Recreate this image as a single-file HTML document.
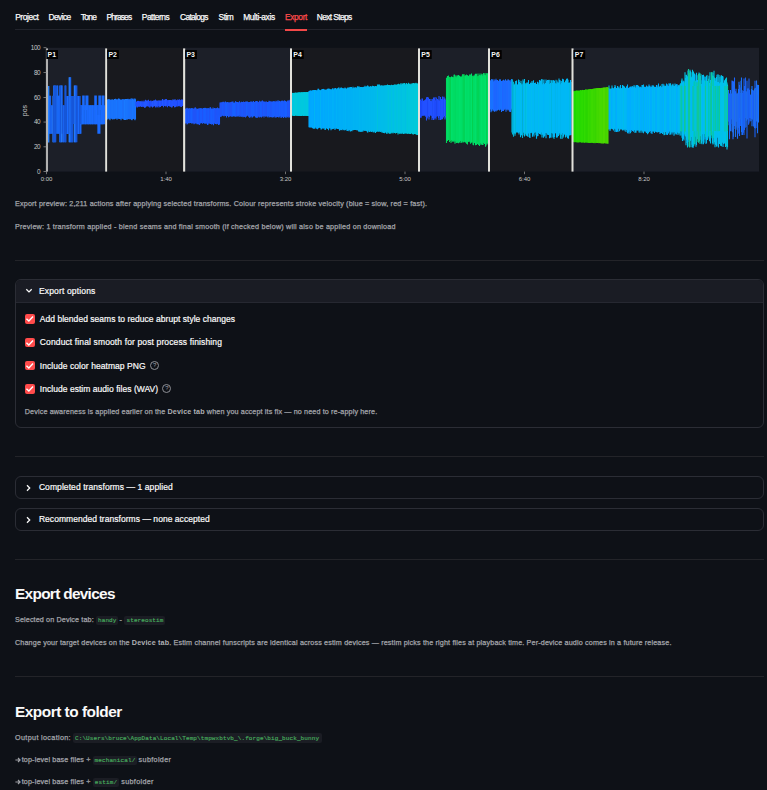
<!DOCTYPE html>
<html>
<head>
<meta charset="utf-8">
<style>
html,body{margin:0;padding:0;}
body{width:767px;height:790px;overflow:hidden;background:#0e1117;position:relative;font-family:"Liberation Sans",sans-serif;color:#fafafa;}
.a{position:absolute;white-space:nowrap;line-height:1;}
.tab{position:absolute;top:12.0px;font-size:8.4px;line-height:10px;color:#fafafa;white-space:nowrap;letter-spacing:-0.15px;-webkit-text-stroke-width:0.25px;}
.hr{position:absolute;left:15px;width:749px;height:1px;background:#232429;}
.cap{position:absolute;font-size:7.2px;line-height:9px;color:#a2a4a9;white-space:nowrap;-webkit-text-stroke-width:0.25px;}
.cap b{color:#aeb0b4;font-weight:bold;-webkit-text-stroke-width:0;}
.lbl{position:absolute;font-size:8.5px;line-height:10px;color:#fafafa;white-space:nowrap;-webkit-text-stroke-width:0.2px;}
.exp{position:absolute;left:15px;width:749px;border:1px solid #2b2d35;border-radius:6px;box-sizing:border-box;}
.cb{position:absolute;left:25px;width:9.6px;height:9.6px;border-radius:2px;background:#ff4b4b;}
.cb svg{position:absolute;left:0;top:0;}
.help{position:absolute;width:7px;height:7px;border:1px solid #8d8f95;border-radius:50%;}
.help i{position:absolute;left:0;top:0;width:7px;height:7px;font-style:normal;font-size:6px;line-height:7.4px;text-align:center;color:#a0a2a8;}
.chip{position:absolute;height:9.4px;background:#1b1d24;border-radius:2px;}
.code{position:absolute;font-family:"Liberation Mono",monospace;font-size:6px;line-height:8px;color:#47ad5e;white-space:nowrap;-webkit-text-stroke-width:0.15px;margin-top:0.7px;}
.h3{position:absolute;font-size:15.4px;font-weight:bold;line-height:18px;color:#fafafa;white-space:nowrap;letter-spacing:-0.3px;}
</style>
</head>
<body>
<!-- tabs -->
<div class="tab" style="letter-spacing:-0.408px;left:15.2px">Project</div>
<div class="tab" style="letter-spacing:-0.568px;left:48.5px">Device</div>
<div class="tab" style="letter-spacing:-0.656px;left:80.8px">Tone</div>
<div class="tab" style="letter-spacing:-0.855px;left:106.5px">Phrases</div>
<div class="tab" style="letter-spacing:-0.474px;left:141.8px">Patterns</div>
<div class="tab" style="letter-spacing:-0.659px;left:180px">Catalogs</div>
<div class="tab" style="letter-spacing:-0.501px;left:218.6px">Stim</div>
<div class="tab" style="letter-spacing:-0.386px;left:243.2px">Multi-axis</div>
<div class="tab" style="letter-spacing:-0.357px;left:285.0px;color:#ff4b4b">Export</div>
<div class="tab" style="letter-spacing:-0.617px;left:316.8px">Next Steps</div>
<div class="hr" style="top:29px;height:1px;background:#22242c"></div>
<div style="position:absolute;left:284.8px;top:28.8px;width:22.5px;height:2px;background:#f24848"></div>

<!-- chart -->
<svg style="position:absolute;left:0;top:0" width="767" height="190" viewBox="0 0 767 190" shape-rendering="auto">
<rect x="46.5" y="47.8" width="59.6" height="123.8" fill="#1c1f28"/>
<rect x="106.1" y="47.8" width="78.0" height="123.8" fill="#18191e"/>
<rect x="184.1" y="47.8" width="106.9" height="123.8" fill="#1c1f28"/>
<rect x="291.0" y="47.8" width="128.0" height="123.8" fill="#18191e"/>
<rect x="419.0" y="47.8" width="70.0" height="123.8" fill="#1c1f28"/>
<rect x="489.0" y="47.8" width="83.5" height="123.8" fill="#18191e"/>
<rect x="572.5" y="47.8" width="186.5" height="123.8" fill="#1c1f28"/>
<path d="M48.35 86.0V142.6M48.85 86.0V142.6" stroke="#2a84ff" stroke-width="1.1" fill="none"/>
<path d="M49.55 95.8V133.8M54.25 85.6V142.3M70.15 77.2V142.3M73.35 95.9V124.0M78.55 95.9V133.9M80.50 105.2V124.2M81.50 105.2V124.2M83.00 105.2V124.2M83.50 105.2V124.2M85.00 105.2V124.2M90.50 105.2V124.2M91.50 105.2V124.2M92.00 105.2V124.2M94.50 105.2V124.2M95.00 105.2V124.2M100.00 105.2V124.2M102.50 105.2V124.2" stroke="#1f74ff" stroke-width="1.1" fill="none"/>
<path d="M50.05 95.8V133.8M56.05 95.8V133.8M59.35 95.8V133.8M63.35 105.3V142.3M67.85 95.9V133.9M69.65 77.2V142.3M71.35 95.9V142.3M75.35 85.6V142.3M78.05 95.9V133.9M81.00 105.2V124.2M87.00 105.2V124.2M87.50 105.2V124.2M89.00 105.2V124.2M93.00 105.2V124.2M93.50 105.2V124.2M95.50 105.2V124.2M97.00 105.2V124.2M98.00 105.2V124.2M99.50 105.2V124.2M102.00 105.2V124.2M104.00 105.2V124.2M104.50 105.2V124.2" stroke="#1c68fa" stroke-width="1.1" fill="none"/>
<path d="M50.55 95.8V133.8M57.75 85.6V133.8M58.35 95.8V133.8M60.75 85.6V142.3M66.85 95.9V133.9M70.65 77.2V142.3M82.00 105.2V124.2M84.00 105.2V124.2M84.50 105.2V124.2M86.00 105.2V124.2M86.50 105.2V124.2M88.50 105.2V124.2M91.00 105.2V124.2M94.00 105.2V124.2M97.50 105.2V124.2M98.50 105.2V124.2M100.50 105.2V124.2M101.00 105.2V124.2" stroke="#1866f0" stroke-width="1.1" fill="none"/>
<path d="M51.25 105.2V133.8M63.85 105.3V142.3M64.35 105.3V142.3M74.85 85.6V142.3M77.55 95.9V133.9M80.05 95.9V133.9" stroke="#1a5ce6" stroke-width="1.1" fill="none"/>
<path d="M51.75 105.2V133.8M52.25 105.2V133.8M53.75 85.6V142.3M55.25 85.6V142.3M56.75 85.6V133.8M57.25 85.6V133.8M58.85 95.8V133.8M59.75 85.6V142.3M61.25 85.6V142.3M62.85 105.3V142.3M65.45 85.6V142.3M67.35 95.9V133.9M68.35 95.9V133.9M72.35 95.9V142.3M75.85 85.6V142.3M79.05 95.9V133.9M80.35 105.3V124.0M82.50 105.2V124.2M85.50 105.2V124.2M88.00 105.2V124.2M89.50 105.2V124.2M90.00 105.2V124.2M92.50 105.2V124.2M96.00 105.2V124.2M96.50 105.2V124.2M99.00 105.2V124.2M101.50 105.2V124.2M103.00 105.2V124.2M103.50 105.2V124.2M82.70 95.4V110.0M83.20 95.4V110.0M83.70 95.4V110.0M84.20 95.4V110.0M85.90 95.4V110.0M86.40 95.4V110.0M86.90 95.4V110.0M87.40 95.4V110.0M87.90 95.4V110.0M94.80 95.4V110.0M95.30 95.4V110.0M95.80 95.4V110.0M96.30 95.4V110.0M98.90 95.4V110.0M99.40 95.4V110.0M99.90 95.4V110.0M100.40 95.4V110.0M102.00 95.4V110.0M102.50 95.4V110.0M103.00 95.4V110.0M103.50 95.4V110.0M104.00 95.4V110.0M79.90 115.0V133.7M80.40 115.0V133.7M80.90 115.0V133.7M97.90 115.0V133.7M98.40 115.0V133.7M98.90 115.0V133.7M99.40 115.0V133.7M99.90 115.0V133.7M496.50 80.3V110.5M497.00 80.0V108.6M499.00 80.7V110.0M499.50 79.8V110.4M500.50 79.8V108.8M501.00 81.1V110.0M506.00 80.9V111.8M508.50 79.8V109.7M509.00 81.9V109.7M509.50 80.6V111.7M728.00 93.9V125.3M737.50 93.8V138.7M739.00 81.8V133.0M739.50 84.9V136.1M742.50 93.0V134.9M747.50 88.9V119.4M749.50 89.7V118.1M751.00 94.3V121.1M754.00 93.2V122.5M755.50 88.0V128.4" stroke="#1a6cff" stroke-width="1.1" fill="none"/>
<path d="M52.95 95.8V142.3M61.75 85.6V142.3M69.15 77.2V142.3M74.35 85.6V142.3" stroke="#2a80ff" stroke-width="1.1" fill="none"/>
<path d="M53.45 95.8V142.3M54.75 85.6V142.3M55.75 85.6V142.3M60.25 85.6V142.3M62.25 85.6V133.8M64.95 85.6V142.3M65.95 85.6V142.3M66.35 95.9V133.9M68.85 95.9V133.9M71.85 95.9V142.3M72.85 95.9V142.3M73.85 95.9V124.0M76.35 85.6V142.3M76.85 85.6V142.3M79.55 95.9V133.9M80.85 105.3V124.0" stroke="#1656d8" stroke-width="1.1" fill="none"/>
<path d="M107.50 99.7V119.6M109.00 98.9V119.3M110.00 99.8V120.2M112.50 99.6V119.2M114.50 98.9V119.2M115.50 98.7V118.6M116.50 99.5V118.6M118.50 98.6V118.5M122.00 99.4V118.8M124.00 99.2V118.8M124.50 99.9V119.9M125.50 99.0V119.9M126.50 98.9V119.2M132.50 99.0V119.3" stroke="#1c7eff" stroke-width="1.1" fill="none"/>
<path d="M108.00 99.0V118.5M108.50 99.5V118.4M109.50 99.7V118.9M111.50 99.4V118.7M112.00 100.2V118.8M113.50 100.1V119.1M117.00 100.0V119.8M121.50 100.0V118.6M123.00 99.3V118.8M125.00 98.9V119.2M127.00 99.2V119.7M127.50 99.0V119.3M128.50 99.4V119.1M130.50 99.5V118.9M132.00 98.3V120.2M133.50 99.7V118.7M135.50 99.2V119.2" stroke="#1a78ff" stroke-width="1.1" fill="none"/>
<path d="M110.50 99.7V118.6M114.00 100.0V118.8M116.00 99.1V118.5M119.00 99.2V119.0M119.50 98.8V118.7M120.00 99.4V119.1M120.50 99.6V118.4M121.00 99.5V120.3M129.00 99.3V118.5M133.00 99.3V118.6M134.50 99.3V119.5M135.00 98.5V120.2" stroke="#1874ff" stroke-width="1.1" fill="none"/>
<path d="M111.00 100.0V118.6M113.00 99.4V119.4M115.00 100.1V118.7M117.50 99.3V118.6M118.00 100.0V118.8M122.50 99.2V118.5M123.50 99.4V119.5M126.00 99.4V119.5M128.00 98.7V119.3M129.50 99.3V119.0M130.00 99.5V119.4M131.00 98.4V118.6M131.50 99.6V119.9M134.00 98.6V119.1" stroke="#1a70fa" stroke-width="1.1" fill="none"/>
<path d="M136.00 101.6V106.0M139.50 101.3V106.7M141.00 101.4V106.1M141.50 101.4V107.1M144.00 100.4V107.1M145.50 99.8V105.9M146.50 101.6V105.9M149.50 101.0V107.6M150.00 101.3V107.4M150.50 100.8V106.2M153.00 100.8V106.5M153.50 101.1V106.7M157.00 100.9V107.4M158.00 100.6V106.0M158.50 101.1V106.0M159.00 100.3V107.5M161.00 100.3V106.0M161.50 100.5V106.0M162.00 100.6V106.0M163.50 100.4V107.2M167.50 100.2V107.3M170.00 100.4V106.5M177.00 100.4V106.9M180.50 100.3V106.8M181.00 99.7V106.7M420.50 99.6V117.5M421.50 100.8V116.4M422.00 98.4V115.7M422.50 98.4V115.7M427.50 96.9V117.8M428.00 101.4V116.2M431.50 101.2V116.1M432.00 100.9V120.1M434.50 98.3V118.5M435.50 100.6V118.2M438.00 99.5V115.9M438.50 100.3V118.0M442.00 99.6V116.0M444.50 100.1V115.9" stroke="#1f4cff" stroke-width="1.1" fill="none"/>
<path d="M136.50 101.9V106.6M139.00 101.6V106.1M142.50 101.7V106.6M148.00 101.0V106.3M149.00 100.9V106.6M151.50 101.4V106.0M154.50 101.2V106.2M155.50 99.4V107.5M164.00 99.8V105.9M165.00 101.0V105.7M168.00 100.3V105.7M169.00 99.9V106.0M170.50 99.9V106.4M177.50 99.5V106.0M178.00 99.5V105.8M179.50 99.2V105.7M182.50 99.6V106.1" stroke="#1d48f8" stroke-width="1.1" fill="none"/>
<path d="M137.00 101.4V107.5M140.00 101.4V106.6M140.50 101.3V106.6M142.00 100.8V106.5M143.50 101.8V106.5M144.50 101.5V107.6M145.00 101.4V108.0M146.00 100.3V107.0M147.00 100.7V106.0M152.00 101.3V107.0M152.50 101.1V107.4M154.00 100.0V106.0M155.00 100.6V105.8M156.00 100.1V106.8M156.50 101.0V106.2M159.50 100.7V106.7M160.00 100.4V106.8M162.50 99.1V105.7M163.00 99.7V105.7M165.50 99.2V106.3M166.00 98.9V106.5M169.50 100.1V106.2M171.00 99.9V107.1M172.50 100.5V106.4M173.00 99.3V105.6M174.00 100.0V105.6M175.00 99.0V107.2M178.50 99.9V105.9M424.00 100.8V115.2M429.00 99.4V119.4M429.50 99.0V116.9M431.00 98.9V115.1M432.50 99.3V118.3M437.50 98.9V116.0M440.50 97.1V120.0M443.50 99.8V116.9M444.00 96.8V115.7M445.00 98.6V119.5M446.00 100.3V117.5" stroke="#2458ff" stroke-width="1.1" fill="none"/>
<path d="M137.50 100.9V107.2M138.00 100.7V107.1M138.50 101.0V106.6M143.00 101.5V107.1M147.50 100.4V106.2M148.50 99.7V106.5M151.00 100.6V106.2M157.50 100.8V106.8M160.50 101.1V107.1M164.50 99.8V105.8M166.50 99.1V105.8M167.00 100.5V105.7M168.50 100.3V106.1M171.50 100.6V107.6M172.00 100.2V107.4M173.50 100.5V106.1M174.50 100.3V107.3M175.50 100.5V106.9M176.00 99.9V105.9M176.50 100.6V105.8M179.00 99.9V106.6M180.00 100.1V105.8M181.50 99.4V106.9M182.00 100.3V106.1M183.00 100.3V106.1" stroke="#2150ff" stroke-width="1.1" fill="none"/>
<path d="M185.50 109.1V123.4M188.00 108.0V123.1M191.50 108.3V123.4M194.00 108.5V124.2M198.50 109.1V124.1M199.00 107.9V124.4M200.00 108.6V122.8M201.00 108.2V122.9M208.00 108.1V124.8M210.00 107.6V123.8M211.50 108.7V124.4M212.50 108.9V124.3M213.00 107.6V123.8M214.00 108.9V123.2M215.50 108.2V124.0M216.50 108.3V124.3M217.50 107.5V123.8M219.50 108.5V124.6M222.50 102.2V115.5M223.50 102.1V115.9M228.50 102.4V117.3M230.00 101.9V115.6M231.00 102.4V116.3M233.00 101.5V116.2M242.50 102.1V115.9M243.00 102.4V117.2M246.00 101.5V116.8M249.50 101.9V117.7M250.50 101.8V116.6M253.00 102.0V115.8M253.50 101.1V116.3M258.50 102.3V116.0M261.00 101.7V116.1M261.50 101.4V117.4M263.00 101.1V116.2M264.00 101.9V117.4M265.50 102.3V116.5M267.50 101.9V116.4M268.50 102.0V116.3M269.50 101.2V117.2M274.00 101.0V116.6M275.00 101.6V117.5M275.50 101.9V116.8M277.00 101.5V116.4M278.50 101.8V117.2M280.00 101.4V116.8M280.50 101.5V116.3M283.50 101.5V117.9M284.50 100.6V116.8M285.50 100.9V116.3M287.00 101.7V116.8M288.00 100.3V117.4" stroke="#1d58ff" stroke-width="1.1" fill="none"/>
<path d="M186.00 108.3V122.8M189.00 108.7V123.5M190.50 108.4V122.9M191.00 108.4V122.9M192.00 108.1V122.8M192.50 108.5V123.2M197.50 108.8V123.6M202.00 108.4V123.3M204.00 108.1V123.2M204.50 108.6V123.5M205.00 107.8V123.8M206.50 108.3V123.6M207.50 108.5V125.1M211.00 108.6V123.7M212.00 108.8V124.1M218.50 108.6V125.1M222.00 102.4V115.7M225.00 103.0V115.5M225.50 101.6V116.1M227.00 102.9V116.1M227.50 102.0V116.0M229.00 102.5V117.0M232.00 102.5V117.0M232.50 101.8V116.3M233.50 102.8V116.1M234.00 102.8V116.4M234.50 102.4V116.4M235.00 102.5V116.2M235.50 101.3V116.6M239.00 102.7V116.8M246.50 101.8V116.3M247.00 101.6V115.6M247.50 101.5V115.6M252.50 102.2V117.6M254.00 102.5V116.6M254.50 101.9V116.1M256.00 101.0V117.5M260.00 101.7V117.3M260.50 101.6V116.7M262.00 100.8V116.9M264.50 101.8V116.0M266.00 101.8V116.4M267.00 102.1V116.4M268.00 101.9V117.6M270.00 101.8V117.2M271.50 101.7V116.9M272.00 101.7V117.6M273.00 101.9V117.6M273.50 101.2V117.0M279.00 100.8V117.6M279.50 100.9V116.4M281.50 100.9V117.3M283.00 101.2V116.7M285.00 100.7V117.2M286.00 101.4V118.0M286.50 101.7V116.4M288.50 101.3V116.3" stroke="#1860ff" stroke-width="1.1" fill="none"/>
<path d="M186.50 108.5V123.3M188.50 108.9V123.0M190.00 108.5V123.1M195.00 107.6V123.1M196.50 109.2V123.3M197.00 108.9V124.2M198.00 109.1V124.2M200.50 108.3V123.4M201.50 108.4V122.9M203.00 108.6V122.9M203.50 108.0V123.0M205.50 108.0V123.4M206.00 108.9V123.5M208.50 108.2V123.6M209.00 108.2V123.4M210.50 107.2V124.0M213.50 108.5V125.3M214.50 108.1V123.4M217.00 108.3V123.6M219.00 107.9V124.2M221.00 102.2V117.0M223.00 101.8V115.5M226.00 102.9V115.7M226.50 102.2V117.4M236.00 101.7V117.1M237.00 102.1V116.1M237.50 102.1V116.4M238.00 102.7V116.2M238.50 102.3V115.7M239.50 101.2V115.4M241.50 101.8V116.4M242.00 101.9V116.9M244.00 102.2V116.9M244.50 102.0V116.7M248.50 102.2V116.8M249.00 102.0V116.3M251.00 101.6V117.5M251.50 101.6V115.8M252.00 101.4V116.2M255.50 101.5V117.3M256.50 101.0V117.7M257.00 102.1V117.3M257.50 101.2V117.7M259.00 102.4V117.3M263.50 101.8V115.9M269.00 100.8V116.0M270.50 101.4V117.0M272.50 101.6V116.7M274.50 102.1V116.1M276.00 100.7V117.7M276.50 101.5V117.0M277.50 101.6V116.9M278.00 100.2V116.8M281.00 101.3V118.1M282.00 100.4V117.2M282.50 100.8V116.7M284.00 100.7V116.7" stroke="#1a5cff" stroke-width="1.1" fill="none"/>
<path d="M187.00 107.7V124.6M187.50 108.5V124.0M189.50 108.3V122.9M193.00 108.5V123.6M193.50 109.1V123.1M194.50 108.5V123.7M195.50 107.5V123.5M196.00 108.0V123.6M199.50 108.9V125.1M202.50 109.1V123.8M207.00 108.4V123.3M209.50 108.7V123.3M215.00 109.0V123.3M216.00 108.9V123.2M218.00 108.7V123.8M220.00 102.4V116.0M220.50 102.8V116.7M221.50 102.4V115.9M224.00 101.7V116.5M224.50 102.5V115.7M228.00 102.4V115.4M229.50 102.9V116.2M230.50 102.6V116.3M231.50 101.7V116.2M236.50 102.5V116.0M240.00 102.3V117.1M240.50 102.5V115.6M241.00 102.5V116.2M243.50 101.4V116.6M245.00 102.1V116.7M245.50 101.8V117.6M248.00 102.3V115.9M250.00 102.5V117.1M255.00 102.2V115.8M258.00 102.1V117.0M259.50 100.7V117.2M262.50 100.6V116.0M265.00 101.5V116.3M266.50 101.5V116.0M271.00 101.3V116.4M287.50 101.1V116.7M289.00 100.4V117.5M289.50 101.4V117.2M290.00 99.8V117.5" stroke="#1f54f8" stroke-width="1.1" fill="none"/>
<path d="M292.50 93.0V115.8M293.00 92.8V115.8M294.00 92.9V116.0M294.50 92.8V115.9M295.00 92.8V115.8M295.50 92.5V115.8M296.00 92.6V115.8M296.50 92.7V115.8M297.00 92.7V115.9M298.50 92.4V115.8M304.50 92.2V115.8M305.50 92.2V115.8M307.50 92.1V116.0M308.50 92.0V115.9" stroke="#02cadc" stroke-width="1.1" fill="none"/>
<path d="M293.50 92.9V115.8M298.00 92.6V115.8M299.00 92.6V116.1M300.00 92.3V115.8M300.50 92.5V115.9M301.50 92.4V115.9M303.00 92.3V115.8M304.00 92.2V115.8M305.00 92.1V115.8M306.50 92.1V115.8" stroke="#00c6e2" stroke-width="1.1" fill="none"/>
<path d="M297.50 92.7V115.8M299.50 92.4V115.8M301.00 92.5V115.9M302.00 92.1V115.8M302.50 92.4V115.8M303.50 92.2V116.0M306.00 92.1V116.1M307.00 91.9V115.8M308.00 92.0V116.1" stroke="#00c8de" stroke-width="1.1" fill="none"/>
<path d="M309.00 91.0V127.3M309.50 90.8V127.4M310.00 90.7V127.5M310.50 90.4V127.4M311.50 91.0V127.0M312.50 90.8V127.2" stroke="#00a6ff" stroke-width="1.1" fill="none"/>
<path d="M311.00 90.4V127.3" stroke="#00aafe" stroke-width="1.1" fill="none"/>
<path d="M312.00 90.6V128.0M313.00 90.0V128.6M314.00 90.2V129.1" stroke="#00abfe" stroke-width="1.1" fill="none"/>
<path d="M313.50 90.2V127.2M315.00 90.9V128.4M315.50 90.1V127.4M316.00 90.1V127.2M316.50 90.8V128.7M317.50 90.3V129.2M318.00 88.8V128.0" stroke="#00a7fe" stroke-width="1.1" fill="none"/>
<path d="M314.50 90.0V128.3M319.00 90.3V127.4M320.00 90.3V127.9M320.50 90.2V128.0M321.00 89.9V129.4M323.00 89.0V128.5M325.00 89.4V129.9M325.50 89.8V129.8M334.00 89.5V128.6M337.00 88.6V128.6M338.50 87.5V128.9M339.00 88.4V129.2M342.00 88.1V129.5M344.00 88.6V129.3M349.50 87.2V129.6M353.00 86.7V130.1M354.00 88.2V130.1M356.50 87.5V130.2M357.00 87.4V130.3M357.50 86.2V130.1M358.50 86.8V131.3M364.00 86.8V130.5M365.00 85.8V130.9M368.00 85.7V132.2M369.50 86.9V131.9" stroke="#00b4f4" stroke-width="1.1" fill="none"/>
<path d="M317.00 90.3V127.3" stroke="#00acfd" stroke-width="1.1" fill="none"/>
<path d="M318.50 88.8V128.3" stroke="#00acfc" stroke-width="1.1" fill="none"/>
<path d="M319.50 89.8V127.3M321.50 89.6V129.2M322.00 89.2V128.5M322.50 89.1V128.2" stroke="#00a8fd" stroke-width="1.1" fill="none"/>
<path d="M323.50 88.9V128.3" stroke="#00adfb" stroke-width="1.1" fill="none"/>
<path d="M324.00 89.6V128.4" stroke="#00aefb" stroke-width="1.1" fill="none"/>
<path d="M324.50 89.8V128.2M326.00 90.1V128.0" stroke="#00a9fc" stroke-width="1.1" fill="none"/>
<path d="M326.50 89.6V128.3" stroke="#00aefa" stroke-width="1.1" fill="none"/>
<path d="M327.00 89.5V128.5" stroke="#00a9fb" stroke-width="1.1" fill="none"/>
<path d="M327.50 88.8V129.0M328.00 89.8V128.8M329.00 88.4V128.3M329.50 89.9V128.1M330.00 89.0V128.4" stroke="#00aafb" stroke-width="1.1" fill="none"/>
<path d="M328.50 88.8V130.2M330.50 89.5V128.4" stroke="#00aff9" stroke-width="1.1" fill="none"/>
<path d="M331.00 89.6V130.2M331.50 89.3V129.0M332.00 89.7V129.2M333.00 88.2V128.7" stroke="#00abfa" stroke-width="1.1" fill="none"/>
<path d="M332.50 88.5V129.0M333.50 89.5V128.8" stroke="#00b0f8" stroke-width="1.1" fill="none"/>
<path d="M334.50 88.3V128.3" stroke="#00abf9" stroke-width="1.1" fill="none"/>
<path d="M335.00 88.9V129.9M335.50 87.9V128.8M336.00 88.8V128.5" stroke="#00acf9" stroke-width="1.1" fill="none"/>
<path d="M336.50 89.3V128.4" stroke="#00b1f7" stroke-width="1.1" fill="none"/>
<path d="M337.50 88.2V128.9M338.00 88.6V128.9" stroke="#00acf8" stroke-width="1.1" fill="none"/>
<path d="M339.50 89.1V130.7" stroke="#00b1f6" stroke-width="1.1" fill="none"/>
<path d="M340.00 87.6V129.7" stroke="#00adf8" stroke-width="1.1" fill="none"/>
<path d="M340.50 88.2V129.8" stroke="#00b2f6" stroke-width="1.1" fill="none"/>
<path d="M341.00 88.0V130.3" stroke="#00adf7" stroke-width="1.1" fill="none"/>
<path d="M341.50 87.5V130.1M342.50 88.6V129.0M343.00 88.0V130.2" stroke="#00aef7" stroke-width="1.1" fill="none"/>
<path d="M343.50 88.7V129.8" stroke="#00b2f5" stroke-width="1.1" fill="none"/>
<path d="M344.50 88.5V130.2" stroke="#00aef6" stroke-width="1.1" fill="none"/>
<path d="M345.00 87.5V130.3M346.00 88.5V129.4M346.50 88.6V129.2M347.00 88.5V131.0" stroke="#00aff6" stroke-width="1.1" fill="none"/>
<path d="M345.50 88.4V129.7" stroke="#00b3f5" stroke-width="1.1" fill="none"/>
<path d="M347.50 87.6V130.9" stroke="#00aff5" stroke-width="1.1" fill="none"/>
<path d="M348.00 88.3V130.5M348.50 87.6V129.4M349.00 88.3V131.3M350.00 88.5V130.1" stroke="#00b0f5" stroke-width="1.1" fill="none"/>
<path d="M350.50 87.1V131.4M351.00 87.5V129.5" stroke="#00b0f4" stroke-width="1.1" fill="none"/>
<path d="M351.50 87.1V131.0M352.00 87.9V131.2M352.50 88.4V130.1" stroke="#00b1f4" stroke-width="1.1" fill="none"/>
<path d="M353.50 87.8V130.2" stroke="#00b5f2" stroke-width="1.1" fill="none"/>
<path d="M354.50 88.1V130.1M355.00 87.1V130.1M355.50 87.6V130.1M356.00 87.9V129.7" stroke="#00b2f3" stroke-width="1.1" fill="none"/>
<path d="M358.00 87.0V130.5" stroke="#00b3f2" stroke-width="1.1" fill="none"/>
<path d="M359.00 86.3V131.7M360.00 87.5V131.7" stroke="#00b3f1" stroke-width="1.1" fill="none"/>
<path d="M359.50 87.4V130.8" stroke="#00b6f1" stroke-width="1.1" fill="none"/>
<path d="M360.50 87.0V131.6" stroke="#00b6f0" stroke-width="1.1" fill="none"/>
<path d="M361.00 87.5V131.9M361.50 87.1V131.2" stroke="#00b4f1" stroke-width="1.1" fill="none"/>
<path d="M362.00 87.1V132.0M608.50 88.0V129.4M610.00 88.4V130.9M615.00 85.1V131.9M615.50 86.4V129.6M619.00 86.6V128.9M623.00 88.9V130.5M624.00 87.9V129.0M626.50 86.4V129.9M629.50 87.5V130.5M637.50 84.9V130.4M638.00 85.4V130.1M639.50 87.6V131.3M642.00 85.0V132.8M643.00 85.1V131.4M643.50 84.5V133.2M644.00 87.6V131.9M647.00 85.9V130.9M651.00 87.0V133.2M653.00 85.0V131.2M653.50 86.1V131.6M655.50 87.0V131.4M656.00 86.7V132.0M662.50 86.6V134.1M664.50 86.2V134.9M666.50 83.5V134.8M671.50 86.3V132.4M673.50 85.6V132.4M674.00 86.1V135.8M676.00 84.4V132.0M679.50 85.8V132.3" stroke="#00b4f0" stroke-width="1.1" fill="none"/>
<path d="M362.50 87.3V130.8" stroke="#00b7f0" stroke-width="1.1" fill="none"/>
<path d="M363.00 86.9V131.5M363.50 87.0V130.2M364.50 87.1V130.4" stroke="#00b5f0" stroke-width="1.1" fill="none"/>
<path d="M365.50 86.7V130.7" stroke="#00b5ef" stroke-width="1.1" fill="none"/>
<path d="M366.00 86.9V130.6M366.50 86.4V131.3" stroke="#00b6ef" stroke-width="1.1" fill="none"/>
<path d="M367.00 86.2V130.8M369.00 87.1V131.1" stroke="#00b8ee" stroke-width="1.1" fill="none"/>
<path d="M367.50 85.4V132.6M368.50 86.5V130.5" stroke="#00b6ee" stroke-width="1.1" fill="none"/>
<path d="M370.00 86.2V131.7" stroke="#00b9ee" stroke-width="1.1" fill="none"/>
<path d="M370.50 86.2V131.3M373.50 86.1V131.9" stroke="#00b9ed" stroke-width="1.1" fill="none"/>
<path d="M371.00 86.3V131.2" stroke="#00b7ed" stroke-width="1.1" fill="none"/>
<path d="M371.50 86.7V131.9M372.00 86.7V131.6M372.50 85.8V131.3" stroke="#00b8ed" stroke-width="1.1" fill="none"/>
<path d="M373.00 86.6V132.3M374.00 86.8V132.5" stroke="#00b8ec" stroke-width="1.1" fill="none"/>
<path d="M374.50 86.7V131.4M375.00 85.9V131.8" stroke="#00b9ec" stroke-width="1.1" fill="none"/>
<path d="M375.50 86.0V133.1M376.00 86.0V131.9" stroke="#00b9eb" stroke-width="1.1" fill="none"/>
<path d="M376.50 86.5V131.8" stroke="#00baec" stroke-width="1.1" fill="none"/>
<path d="M377.00 86.3V131.7M377.50 84.6V131.2" stroke="#00baeb" stroke-width="1.1" fill="none"/>
<path d="M378.00 86.3V131.6M387.50 84.4V132.4M388.50 84.9V132.7M389.00 85.7V133.4M391.00 85.6V133.4M391.50 84.8V132.7M393.50 84.9V132.3M394.50 84.4V133.0M395.50 84.6V133.4M396.00 85.0V132.4M398.00 85.0V134.4M398.50 83.8V133.0M399.50 84.3V133.6M403.50 83.3V133.5M406.50 83.0V133.0M407.50 84.3V133.7M408.00 83.8V133.0M413.00 84.1V133.6" stroke="#00c8d4" stroke-width="1.1" fill="none"/>
<path d="M378.50 84.6V131.7M379.00 86.4V131.7" stroke="#00baea" stroke-width="1.1" fill="none"/>
<path d="M379.50 84.5V131.2M380.00 85.9V131.8" stroke="#00bbea" stroke-width="1.1" fill="none"/>
<path d="M380.50 85.8V131.9" stroke="#00bbeb" stroke-width="1.1" fill="none"/>
<path d="M381.00 85.3V131.4M381.50 86.0V131.7" stroke="#00bbe9" stroke-width="1.1" fill="none"/>
<path d="M382.00 84.9V132.7M382.50 85.9V131.7M383.00 85.9V132.4M386.00 85.4V132.6" stroke="#00bce9" stroke-width="1.1" fill="none"/>
<path d="M383.50 85.8V133.1M384.00 85.2V131.5M384.50 85.6V133.3M609.00 85.5V129.2M610.50 89.1V129.5M611.00 88.6V129.1M612.00 85.6V128.2M614.00 88.5V128.8M617.00 88.4V129.2M621.50 88.4V129.3M623.50 85.7V129.8M630.50 86.8V133.2M635.00 85.5V132.9M640.00 86.6V132.7M641.00 87.3V130.6M645.00 87.1V130.7M645.50 87.2V131.4M647.50 86.9V134.2M659.50 86.5V132.0M660.50 85.8V132.9M662.00 84.0V132.0M664.00 84.6V135.3M665.00 86.2V134.7M666.00 86.6V132.0M669.50 83.7V131.4M670.50 83.3V134.2M671.00 84.8V131.6M672.50 84.6V132.6M675.50 84.9V133.4M677.50 86.4V132.5M678.00 85.0V135.1M679.00 85.2V133.6M680.00 84.2V135.5" stroke="#00bce8" stroke-width="1.1" fill="none"/>
<path d="M385.00 85.6V131.7M385.50 85.2V132.5M389.50 85.0V133.5" stroke="#00bde8" stroke-width="1.1" fill="none"/>
<path d="M386.50 85.2V133.4" stroke="#00bde7" stroke-width="1.1" fill="none"/>
<path d="M387.00 85.6V133.9" stroke="#00bde9" stroke-width="1.1" fill="none"/>
<path d="M388.00 85.0V132.3M393.00 85.0V133.6M394.00 84.8V132.4" stroke="#00bee7" stroke-width="1.1" fill="none"/>
<path d="M390.00 84.9V133.7" stroke="#00bfe6" stroke-width="1.1" fill="none"/>
<path d="M390.50 85.6V133.2M392.00 84.9V132.3" stroke="#00bfe5" stroke-width="1.1" fill="none"/>
<path d="M392.50 85.3V132.8M400.50 84.2V133.4M401.50 84.6V133.8" stroke="#00c0e5" stroke-width="1.1" fill="none"/>
<path d="M395.00 85.2V132.7M405.00 84.4V133.2" stroke="#00c1e4" stroke-width="1.1" fill="none"/>
<path d="M396.50 84.8V133.0M397.00 84.6V132.4M405.50 84.6V133.6M406.00 83.6V133.2" stroke="#00c1e3" stroke-width="1.1" fill="none"/>
<path d="M397.50 84.3V132.7" stroke="#00c2e3" stroke-width="1.1" fill="none"/>
<path d="M399.00 85.1V133.5M409.00 83.7V133.9" stroke="#00c2e2" stroke-width="1.1" fill="none"/>
<path d="M400.00 84.9V133.7" stroke="#00c3e2" stroke-width="1.1" fill="none"/>
<path d="M401.00 82.9V132.9" stroke="#00c3e1" stroke-width="1.1" fill="none"/>
<path d="M402.00 84.6V132.9" stroke="#00c0e4" stroke-width="1.1" fill="none"/>
<path d="M402.50 83.5V132.7" stroke="#00c4e1" stroke-width="1.1" fill="none"/>
<path d="M403.00 84.2V134.0M404.00 83.8V134.0M404.50 83.1V133.3M682.00 78.4V137.7M683.50 82.6V135.8M685.00 72.3V135.6M686.50 74.7V139.7M692.50 69.7V146.9M699.50 73.4V141.6M707.00 75.0V140.0M708.00 84.6V138.5M714.00 70.7V143.8M722.00 76.6V139.7M683.00 85.9V131.0M704.50 86.0V131.0M705.00 85.9V131.4M708.00 86.0V131.2M710.00 85.8V131.5M716.00 86.0V131.0M721.00 86.0V131.1M727.00 85.8V131.5" stroke="#00c4e0" stroke-width="1.1" fill="none"/>
<path d="M407.00 84.1V134.1" stroke="#00c6df" stroke-width="1.1" fill="none"/>
<path d="M408.50 82.8V133.4" stroke="#00c6de" stroke-width="1.1" fill="none"/>
<path d="M409.50 83.8V133.8" stroke="#00c7de" stroke-width="1.1" fill="none"/>
<path d="M410.00 84.3V133.6M410.50 84.2V134.1M411.00 83.5V133.4M411.50 84.2V133.3" stroke="#00c7dd" stroke-width="1.1" fill="none"/>
<path d="M412.00 83.5V133.4M412.50 83.2V134.2M413.50 83.1V134.4M414.00 83.9V134.0" stroke="#00c8dc" stroke-width="1.1" fill="none"/>
<path d="M414.50 83.2V134.1M415.00 83.3V133.6M415.50 83.6V134.1M416.00 82.8V134.6" stroke="#00c9db" stroke-width="1.1" fill="none"/>
<path d="M416.50 83.4V134.8M417.00 83.3V134.1M417.50 83.4V135.1" stroke="#00cada" stroke-width="1.1" fill="none"/>
<path d="M421.00 101.3V118.0M425.50 99.2V116.7M427.00 98.6V118.7M433.00 98.9V116.1M434.00 100.1V119.7M436.00 100.2V119.6M436.50 97.5V115.8M437.00 98.9V116.8M440.00 99.5V115.5M443.00 97.0V118.1M445.50 100.3V116.2" stroke="#1c46f0" stroke-width="1.1" fill="none"/>
<path d="M423.00 101.7V115.8M423.50 100.8V115.8M424.50 100.6V115.4M425.00 100.0V115.7M426.00 100.1V115.5M426.50 97.2V120.5M428.50 97.6V116.2M430.00 101.6V115.8M430.50 100.9V115.5M433.50 97.5V120.0M435.00 97.1V116.5M439.00 96.1V120.0M439.50 100.8V115.9M441.00 100.3V119.5M441.50 99.1V119.4M442.50 96.5V119.3" stroke="#2250ff" stroke-width="1.1" fill="none"/>
<path d="M446.50 77.9V143.0M449.50 76.9V142.0M455.50 76.7V141.3M456.00 76.3V142.6M457.50 75.7V142.8M462.50 74.2V141.3M463.00 77.0V142.7M466.50 74.4V143.7M469.50 74.4V141.2M474.00 75.2V143.2M476.00 73.9V143.0M477.00 73.6V141.9M479.00 73.5V145.1M482.00 74.3V144.5M483.50 72.9V143.0" stroke="#02d65a" stroke-width="1.1" fill="none"/>
<path d="M447.00 77.5V141.0M448.00 76.0V139.9M448.50 75.6V139.9M449.00 77.9V139.8M452.50 77.1V141.2M453.50 77.2V141.3M454.00 74.7V142.1M454.50 74.5V140.7M456.50 77.3V143.0M460.00 76.6V140.9M461.50 77.0V142.5M463.50 74.4V142.1M464.50 75.9V141.8M465.00 75.2V142.2M467.50 75.2V144.6M469.00 75.7V141.5M470.50 74.4V143.8M471.00 75.1V142.3M473.00 76.7V144.7M474.50 76.0V143.0M476.50 74.3V145.1M477.50 76.2V144.1M478.50 75.8V145.1M479.50 75.0V145.9M480.00 76.0V142.6M480.50 75.3V143.6M482.50 76.1V145.1M486.00 74.4V145.4" stroke="#00d860" stroke-width="1.1" fill="none"/>
<path d="M447.50 75.9V140.9M452.00 76.8V142.1M455.00 75.3V143.7M458.00 77.3V142.8M458.50 75.0V143.3M459.00 77.3V142.7M460.50 76.7V141.1M462.00 75.8V141.8M466.00 75.7V141.4M467.00 74.9V143.3M468.50 76.1V141.7M470.00 76.3V142.3M473.50 76.2V145.2M484.00 73.7V142.7M484.50 75.0V144.0M487.00 72.9V144.5M487.50 73.5V143.4" stroke="#00dc66" stroke-width="1.1" fill="none"/>
<path d="M450.00 77.8V141.1M450.50 77.2V140.4M451.00 77.0V142.9M464.00 73.9V140.7M472.00 75.8V142.8M472.50 75.8V142.2M478.00 76.1V142.0M486.50 73.5V143.1" stroke="#04d050" stroke-width="1.1" fill="none"/>
<path d="M451.50 76.4V140.2M453.00 77.5V140.4M457.00 75.2V141.8M459.50 75.7V142.3M461.00 76.8V143.0M465.50 75.4V142.6M468.00 76.3V141.7M471.50 73.4V142.5M475.00 74.5V142.2M475.50 73.8V145.3M481.00 73.6V145.1M481.50 74.7V144.1M483.00 74.2V145.0M485.00 73.1V142.5M485.50 75.2V146.7" stroke="#00e06a" stroke-width="1.1" fill="none"/>
<path d="M490.50 80.6V109.6M493.00 80.6V108.7M493.50 81.4V110.6M494.50 81.5V111.7M497.50 80.1V110.5M503.50 79.7V111.1M504.50 80.7V109.5M506.50 80.6V109.4M507.50 80.4V109.1M508.00 79.2V110.5M511.00 80.3V110.3M511.50 78.9V108.8" stroke="#2070ff" stroke-width="1.1" fill="none"/>
<path d="M491.00 80.2V112.2M491.50 79.2V110.0M492.00 79.1V111.3M492.50 79.8V109.4M495.50 80.3V110.7M498.50 81.0V109.5M500.00 79.1V109.4M501.50 80.9V112.1M502.00 81.2V109.4M504.00 80.7V109.0M505.50 79.3V108.7M510.00 80.2V110.2M510.50 81.7V112.0M729.50 94.1V139.3M730.00 93.0V127.4M730.50 90.0V131.2M738.50 89.1V127.7M741.50 77.5V132.0M742.00 89.9V134.9M744.50 86.1V129.9M748.00 88.0V118.1M752.00 86.0V126.3M753.00 90.1V119.4M757.50 84.7V133.3M758.00 92.1V119.0M758.50 85.0V122.5" stroke="#1872ff" stroke-width="1.1" fill="none"/>
<path d="M494.00 79.3V111.2M495.00 80.5V109.2M496.00 78.7V111.6M498.00 80.9V109.4M502.50 80.6V111.0M503.00 81.0V110.7M505.00 80.5V109.8M507.00 81.9V109.9M728.50 90.0V121.6M731.50 94.0V119.6M732.00 80.4V131.2M733.00 81.0V139.3M734.00 81.7V128.9M734.50 77.6V125.9M735.00 91.2V120.7M736.00 88.8V127.6M743.50 92.4V118.6M745.00 92.7V128.0M746.50 91.8V120.7M750.00 95.0V121.5M750.50 94.9V118.2M752.50 92.1V118.9M756.00 87.7V128.0M757.00 95.0V118.5" stroke="#1d66ff" stroke-width="1.1" fill="none"/>
<path d="M512.00 79.6V132.5M516.00 84.5V132.7M518.50 79.6V132.4M520.50 84.1V137.2M523.00 79.5V132.6M524.00 81.2V135.3M526.00 84.3V135.5M527.00 82.2V135.9M528.00 82.7V137.1M529.50 84.1V137.6M530.00 84.3V138.1M531.00 82.8V131.9M531.50 83.7V132.8M532.00 80.9V133.2M534.50 83.0V132.8M538.50 84.5V133.1M543.00 80.1V133.4M544.50 84.2V136.5M545.00 83.7V135.6M551.00 83.3V137.8M551.50 80.3V133.1M553.00 79.9V137.5M555.50 83.4V133.0M563.50 79.5V136.4M565.50 80.6V137.6M566.00 81.8V136.9M569.50 82.5V135.6M571.00 82.1V135.0M692.00 76.5V144.8M699.00 72.5V135.4M702.00 80.3V144.3M702.50 75.1V134.3M703.50 74.8V144.2M717.00 74.7V146.6M717.50 82.1V137.4M720.00 76.8V143.3M686.50 86.0V131.1M688.00 85.8V131.0M695.50 85.7V131.0M707.50 85.7V131.1M712.00 86.0V131.2M726.50 86.0V131.0" stroke="#00bcf0" stroke-width="1.1" fill="none"/>
<path d="M512.50 79.5V134.5M513.00 84.5V134.3M513.50 81.7V136.7M515.50 80.9V133.7M517.00 84.6V132.5M522.00 83.5V135.7M522.50 84.2V138.1M525.50 83.2V134.1M535.00 84.6V132.6M552.00 81.0V133.3M554.00 80.7V138.9M556.00 79.8V133.5M557.50 82.3V137.3M560.50 84.2V138.7M567.00 82.7V133.6M570.00 83.5V134.4" stroke="#00b0d0" stroke-width="1.1" fill="none"/>
<path d="M514.00 85.1V133.2M523.50 82.7V132.6M536.50 84.0V138.8M537.50 81.7V136.2M538.00 82.5V136.0M540.00 84.0V133.5M543.50 82.9V137.7M544.00 79.6V134.7M546.00 79.4V138.2M547.00 84.6V133.0M549.50 83.9V138.3M550.00 79.9V133.5M554.50 80.7V137.1M556.50 83.6V137.6M558.00 83.4V135.4M561.00 81.1V133.9M568.00 79.8V135.0M570.50 79.9V135.3" stroke="#00b4f8" stroke-width="1.1" fill="none"/>
<path d="M514.50 84.6V133.5M515.00 83.6V135.8M520.00 83.1V133.2M521.00 80.7V134.8M524.50 79.0V136.6M525.00 84.5V133.1M526.50 83.2V134.6M536.00 84.0V135.3M539.00 82.7V132.6M542.00 78.9V137.5M549.00 79.8V132.9M559.50 84.5V132.9M562.00 80.9V138.9M564.50 82.3V133.2M569.00 83.3V133.1" stroke="#02c0e8" stroke-width="1.1" fill="none"/>
<path d="M516.50 80.4V132.1M517.50 84.5V132.1M518.00 84.8V132.8M519.00 80.1V134.4M519.50 82.1V132.0M521.50 84.6V134.9M527.50 84.1V134.7M528.50 79.9V133.6M529.00 84.2V132.7M530.50 82.7V133.0M532.50 82.7V136.7M533.00 83.2V132.2M533.50 80.2V134.4M534.00 83.2V136.6M535.50 82.6V132.2M537.00 84.0V133.8M539.50 80.1V133.9M540.50 80.5V134.3M541.00 83.5V134.7M541.50 79.3V132.6M542.50 84.3V134.8M545.50 83.0V133.1M546.50 80.7V133.2M547.50 79.9V134.7M548.00 84.6V133.1M548.50 80.1V135.0M550.50 83.0V137.6M552.50 82.8V133.4M553.50 80.2V137.4M555.00 82.9V133.2M557.00 80.6V137.5M558.50 82.6V136.0M559.00 78.6V135.1M560.00 80.1V133.5M561.50 82.8V134.8M562.50 78.8V133.0M563.00 79.3V137.8M564.00 82.8V134.6M565.00 83.4V134.7M566.50 78.8V135.4M567.50 78.4V138.3M568.50 82.7V138.8" stroke="#00b8f5" stroke-width="1.1" fill="none"/>
<path d="M573.50 91.4V141.9" stroke="#1edd00" stroke-width="1.1" fill="none"/>
<path d="M574.00 91.3V141.9" stroke="#23dc00" stroke-width="1.1" fill="none"/>
<path d="M574.50 91.1V142.3" stroke="#20dd00" stroke-width="1.1" fill="none"/>
<path d="M575.00 90.8V142.0" stroke="#1cd800" stroke-width="1.1" fill="none"/>
<path d="M575.50 91.1V142.0M576.00 90.8V142.2" stroke="#1dd800" stroke-width="1.1" fill="none"/>
<path d="M576.50 90.7V142.2" stroke="#26dc00" stroke-width="1.1" fill="none"/>
<path d="M577.00 90.6V142.2M577.50 91.0V142.4" stroke="#27dc00" stroke-width="1.1" fill="none"/>
<path d="M578.00 90.5V142.1" stroke="#25dc00" stroke-width="1.1" fill="none"/>
<path d="M578.50 90.8V142.5M579.00 90.8V142.3" stroke="#29dc00" stroke-width="1.1" fill="none"/>
<path d="M579.50 90.8V142.1" stroke="#22d700" stroke-width="1.1" fill="none"/>
<path d="M580.00 90.5V142.2" stroke="#28dc00" stroke-width="1.1" fill="none"/>
<path d="M580.50 90.1V142.1" stroke="#23d700" stroke-width="1.1" fill="none"/>
<path d="M581.00 90.2V142.2" stroke="#2cdb00" stroke-width="1.1" fill="none"/>
<path d="M581.50 90.5V142.6" stroke="#2bdc00" stroke-width="1.1" fill="none"/>
<path d="M582.00 90.2V142.2" stroke="#2ddb00" stroke-width="1.1" fill="none"/>
<path d="M582.50 89.9V142.4" stroke="#2edb00" stroke-width="1.1" fill="none"/>
<path d="M583.00 90.3V142.6M584.00 89.9V142.4" stroke="#2fdb00" stroke-width="1.1" fill="none"/>
<path d="M583.50 90.3V142.2" stroke="#27d700" stroke-width="1.1" fill="none"/>
<path d="M584.50 89.9V142.8M585.50 89.4V142.3" stroke="#31db00" stroke-width="1.1" fill="none"/>
<path d="M585.00 90.0V142.4" stroke="#30db00" stroke-width="1.1" fill="none"/>
<path d="M586.00 89.6V142.6" stroke="#2bd700" stroke-width="1.1" fill="none"/>
<path d="M586.50 89.6V142.5" stroke="#2bd600" stroke-width="1.1" fill="none"/>
<path d="M587.00 89.9V142.3" stroke="#2cd600" stroke-width="1.1" fill="none"/>
<path d="M587.50 89.6V142.8M588.00 89.5V142.7" stroke="#2dd600" stroke-width="1.1" fill="none"/>
<path d="M588.50 89.7V142.8" stroke="#36db00" stroke-width="1.1" fill="none"/>
<path d="M589.00 89.1V142.8" stroke="#37db00" stroke-width="1.1" fill="none"/>
<path d="M589.50 89.2V143.0" stroke="#2fd600" stroke-width="1.1" fill="none"/>
<path d="M590.00 89.5V142.5" stroke="#38db00" stroke-width="1.1" fill="none"/>
<path d="M590.50 89.0V142.9" stroke="#31d600" stroke-width="1.1" fill="none"/>
<path d="M591.00 89.3V142.8" stroke="#39da00" stroke-width="1.1" fill="none"/>
<path d="M591.50 89.3V142.7M592.00 89.0V142.6" stroke="#3bda00" stroke-width="1.1" fill="none"/>
<path d="M592.50 88.9V142.8" stroke="#3cda00" stroke-width="1.1" fill="none"/>
<path d="M593.00 89.1V142.6" stroke="#3dda00" stroke-width="1.1" fill="none"/>
<path d="M593.50 88.8V143.1" stroke="#3eda00" stroke-width="1.1" fill="none"/>
<path d="M594.00 88.6V142.7" stroke="#35d600" stroke-width="1.1" fill="none"/>
<path d="M594.50 88.8V142.7M595.50 88.5V142.8" stroke="#3fda00" stroke-width="1.1" fill="none"/>
<path d="M595.00 88.4V143.3" stroke="#37d600" stroke-width="1.1" fill="none"/>
<path d="M596.00 88.6V142.9" stroke="#38d500" stroke-width="1.1" fill="none"/>
<path d="M596.50 88.2V142.8" stroke="#39d500" stroke-width="1.1" fill="none"/>
<path d="M597.00 88.3V142.9M598.00 88.0V142.8" stroke="#43da00" stroke-width="1.1" fill="none"/>
<path d="M597.50 88.5V143.0" stroke="#44da00" stroke-width="1.1" fill="none"/>
<path d="M598.50 88.0V142.9" stroke="#3bd500" stroke-width="1.1" fill="none"/>
<path d="M599.00 88.3V143.3M599.50 87.9V142.9" stroke="#47d900" stroke-width="1.1" fill="none"/>
<path d="M600.00 88.1V143.0" stroke="#48d900" stroke-width="1.1" fill="none"/>
<path d="M600.50 88.2V143.0" stroke="#49d900" stroke-width="1.1" fill="none"/>
<path d="M601.00 87.9V143.4" stroke="#4ad900" stroke-width="1.1" fill="none"/>
<path d="M601.50 87.9V143.0" stroke="#47da00" stroke-width="1.1" fill="none"/>
<path d="M602.00 88.0V143.4" stroke="#48da00" stroke-width="1.1" fill="none"/>
<path d="M602.50 87.9V143.2M605.00 87.6V143.1" stroke="#4cd900" stroke-width="1.1" fill="none"/>
<path d="M603.00 87.4V143.2" stroke="#41d500" stroke-width="1.1" fill="none"/>
<path d="M603.50 87.7V143.4" stroke="#4ed900" stroke-width="1.1" fill="none"/>
<path d="M604.00 87.7V143.2M604.50 87.5V143.2" stroke="#4fd900" stroke-width="1.1" fill="none"/>
<path d="M605.50 87.4V143.5M606.00 87.4V143.4" stroke="#45d400" stroke-width="1.1" fill="none"/>
<path d="M606.50 87.2V143.4" stroke="#46d400" stroke-width="1.1" fill="none"/>
<path d="M607.00 87.3V143.2" stroke="#47d400" stroke-width="1.1" fill="none"/>
<path d="M607.50 87.3V143.5" stroke="#54d800" stroke-width="1.1" fill="none"/>
<path d="M608.00 87.0V143.7" stroke="#48d400" stroke-width="1.1" fill="none"/>
<path d="M609.50 88.8V129.3M612.50 87.7V129.1M616.00 88.7V131.6M618.00 88.4V132.0M627.50 84.5V133.2M628.00 88.0V132.5M629.00 87.8V133.7M637.00 86.4V130.4M638.50 86.0V130.4M641.50 87.5V130.4M642.50 87.4V130.8M650.00 85.7V130.6M651.50 86.9V132.8M658.50 83.5V132.1M661.00 87.0V131.8M661.50 87.2V132.9M663.00 83.8V133.6M668.50 86.5V133.5M672.00 85.4V134.5M676.50 84.3V134.6" stroke="#00b0fa" stroke-width="1.1" fill="none"/>
<path d="M611.50 89.1V128.5M616.50 87.9V132.0M622.00 87.9V128.9M625.00 88.4V131.3M627.00 86.0V129.4M628.50 88.0V130.4M630.00 86.8V132.3M631.00 86.8V132.0M631.50 87.5V129.9M632.50 86.2V130.9M633.00 86.8V129.6M633.50 87.3V131.8M635.50 87.4V131.9M636.50 85.0V130.5M640.50 87.3V130.6M644.50 86.8V131.1M646.00 86.8V132.2M646.50 85.5V133.1M648.00 87.9V130.9M648.50 86.4V133.2M649.00 84.4V131.8M650.50 87.3V131.0M652.00 85.5V133.9M655.00 87.4V131.0M656.50 84.9V132.3M657.00 85.3V131.0M660.00 87.1V134.1M663.50 85.6V132.0M667.00 84.0V131.7M667.50 85.2V134.9M668.00 86.0V132.0M669.00 83.3V131.6M677.00 84.1V132.5" stroke="#00aeff" stroke-width="1.1" fill="none"/>
<path d="M613.00 89.3V129.4M613.50 88.3V130.5M614.50 87.1V128.8M617.50 86.1V131.4M618.50 87.5V128.6M619.50 88.8V131.2M620.00 88.0V129.4M620.50 85.0V129.2M621.00 87.9V129.4M622.50 85.0V130.3M624.50 86.5V129.8M625.50 88.1V129.5M626.00 87.8V132.0M632.00 86.2V129.7M634.00 85.3V129.9M634.50 86.9V130.2M636.00 88.1V132.7M639.00 87.1V132.6M649.50 85.9V131.7M652.50 86.3V131.4M654.00 87.4V131.5M654.50 86.8V133.0M657.50 87.4V132.6M658.00 86.5V132.2M659.00 86.9V131.6M665.50 85.7V131.9M670.00 85.9V134.9M673.00 83.8V131.7M674.50 86.0V131.9M675.00 83.5V134.4M678.50 86.3V132.9" stroke="#00b8f4" stroke-width="1.1" fill="none"/>
<path d="M680.50 83.2V129.8M687.50 76.3V147.5M690.50 71.2V140.7M691.00 72.3V147.2M704.50 80.3V133.9M706.50 75.9V143.1M710.00 72.3V138.2M719.00 75.1V139.6M721.50 75.2V146.3M725.00 86.3V142.9M727.00 82.6V149.6M727.50 84.6V147.3M683.50 86.0V131.0M684.00 86.0V131.2M690.50 85.6V131.3M692.00 85.8V131.0M701.50 86.0V131.3M706.00 85.7V131.4M708.50 85.9V131.0" stroke="#00c4e4" stroke-width="1.1" fill="none"/>
<path d="M681.00 84.3V135.5M681.50 80.5V128.1M685.50 78.0V136.5M690.00 69.8V140.8M691.50 77.3V137.1M693.50 71.6V146.6M695.50 80.7V136.8M696.50 72.7V144.9M698.00 75.3V138.3M700.50 76.1V136.2M701.00 74.2V139.8M704.00 76.2V142.7M707.50 81.1V139.9M709.00 75.7V135.2M709.50 83.0V141.2M710.50 80.0V143.6M712.50 75.6V143.3M713.00 72.8V144.4M715.00 78.1V147.3M715.50 80.7V144.4M716.50 77.0V146.6M718.00 74.3V137.7M719.50 83.2V144.1M720.50 82.2V145.8M722.50 76.1V142.8M724.00 84.1V143.7M726.50 77.5V146.0M682.50 85.7V131.3M687.50 85.7V131.1M691.00 85.7V131.0M693.50 86.0V131.4M696.50 86.0V131.0M698.00 86.0V131.0M700.00 86.0V131.0M701.00 86.0V131.1M711.00 85.6V131.1M711.50 85.6V131.1M713.00 85.9V131.0M713.50 85.9V131.1M714.50 85.9V131.1M719.00 85.7V131.1" stroke="#00c0e8" stroke-width="1.1" fill="none"/>
<path d="M682.50 82.3V141.0M687.00 76.7V143.1M693.00 78.6V148.1M703.00 77.1V141.4M705.00 77.0V139.4M716.00 78.5V145.0M718.50 81.9V147.5M723.00 76.4V147.1M689.00 86.0V131.0M694.00 85.9V131.1M699.50 86.0V131.0M702.00 85.6V131.1M703.50 86.0V131.1M709.50 85.7V131.0M720.50 85.9V131.0M723.50 86.0V131.3M726.00 85.6V131.0" stroke="#00bcf4" stroke-width="1.1" fill="none"/>
<path d="M683.00 80.6V139.2M684.00 81.2V140.5M688.00 70.5V142.0M694.50 73.5V140.1M696.00 74.5V146.8M697.50 80.1V139.2M706.00 76.4V143.9M691.50 85.9V131.0M692.50 85.7V131.0M694.50 85.9V131.2M696.00 85.8V131.2M697.00 85.9V131.0M699.00 86.0V131.5M702.50 85.6V131.0M703.00 85.6V131.0M716.50 86.0V131.0M718.00 85.7V131.5M720.00 86.0V131.2M721.50 86.0V131.1M722.50 85.8V131.4" stroke="#00b8f8" stroke-width="1.1" fill="none"/>
<path d="M684.50 82.4V133.9M689.00 71.1V146.4M694.00 81.4V145.6M695.00 80.6V144.1M705.50 80.7V137.1M708.50 78.8V136.5M712.00 72.1V138.3M713.50 76.1V138.0M726.00 78.4V146.8M681.50 85.9V131.0M682.00 85.6V131.5M685.50 85.9V131.4M688.50 85.6V131.0M698.50 85.8V131.4M700.50 86.0V131.2M709.00 85.7V131.0M710.50 85.9V131.0M714.00 85.9V131.3M715.50 86.0V131.1M717.00 85.7V131.2M717.50 85.8V131.1M718.50 85.9V131.2M725.50 86.0V131.0" stroke="#00c8b8" stroke-width="1.1" fill="none"/>
<path d="M686.00 74.9V145.3M701.50 83.9V143.5M714.50 77.4V141.9M721.00 75.6V144.3M723.50 82.7V144.0M724.50 80.3V143.2M725.50 78.8V147.1M680.50 85.8V131.1M686.00 85.5V131.0M687.00 86.0V131.0M689.50 86.0V131.2M690.00 85.5V131.1M695.00 85.9V131.3M704.00 85.8V131.2M706.50 86.0V131.0M707.00 86.0V131.4M712.50 86.0V131.2M722.00 85.9V131.0M723.00 85.9V131.4M724.00 86.0V131.5M724.50 85.6V131.1" stroke="#00c2ea" stroke-width="1.1" fill="none"/>
<path d="M688.50 68.9V139.7M689.50 72.8V147.6M697.00 82.3V142.1M698.50 74.0V142.8M700.00 73.3V143.9M711.00 82.8V135.2M711.50 72.3V135.6M681.00 85.7V131.4M684.50 86.0V131.0M685.00 85.8V131.4M693.00 86.0V131.0M697.50 85.9V131.2M705.50 85.9V131.0M715.00 86.0V131.1M719.50 85.8V131.1M725.00 85.8V131.4M727.50 86.0V131.0" stroke="#10c898" stroke-width="1.1" fill="none"/>
<path d="M729.00 93.9V121.3M731.00 92.9V123.9M736.50 93.9V121.8M738.00 93.5V134.1M740.00 87.6V118.1M740.50 92.9V125.9M743.00 90.9V132.8M744.00 78.4V135.0M745.50 77.4V118.1M747.00 80.7V138.6M748.50 88.8V124.7M749.00 78.4V123.5M753.50 91.1V126.5M755.00 80.7V137.3" stroke="#1a60f0" stroke-width="1.1" fill="none"/>
<path d="M732.50 90.9V132.2M733.50 83.0V136.7M735.50 94.3V137.0M737.00 92.8V129.7M741.00 80.7V119.6M746.00 91.1V127.1M751.50 88.9V119.1M754.50 88.5V127.9M756.50 80.5V121.6" stroke="#2070e8" stroke-width="1.1" fill="none"/>
<rect x="45.9" y="48.4" width="2.1" height="123.2" fill="#b0b0b0"/>
<rect x="105.2" y="48.4" width="1.9" height="123.2" fill="#e2e2dc"/>
<rect x="183.1" y="48.4" width="2.1" height="123.2" fill="#e2e2dc"/>
<rect x="290.0" y="48.4" width="2.0" height="123.2" fill="#e2e2dc"/>
<rect x="418.0" y="48.4" width="2.0" height="123.2" fill="#e2e2dc"/>
<rect x="488.0" y="48.4" width="2.0" height="123.2" fill="#e2e2dc"/>
<rect x="571.5" y="48.4" width="2.0" height="123.2" fill="#e2e2dc"/>
<rect x="46.3" y="50.1" width="11.7" height="8.9" fill="#000"/>
<text x="47.6" y="56.9" font-family="Liberation Sans" font-weight="bold" font-size="6.9" fill="#f4f4f4">P1</text>
<rect x="107.1" y="50.1" width="11.7" height="8.9" fill="#000"/>
<text x="108.4" y="56.9" font-family="Liberation Sans" font-weight="bold" font-size="6.9" fill="#f4f4f4">P2</text>
<rect x="185.2" y="50.1" width="11.7" height="8.9" fill="#000"/>
<text x="186.5" y="56.9" font-family="Liberation Sans" font-weight="bold" font-size="6.9" fill="#f4f4f4">P3</text>
<rect x="292.0" y="50.1" width="11.7" height="8.9" fill="#000"/>
<text x="293.3" y="56.9" font-family="Liberation Sans" font-weight="bold" font-size="6.9" fill="#f4f4f4">P4</text>
<rect x="420.0" y="50.1" width="11.7" height="8.9" fill="#000"/>
<text x="421.3" y="56.9" font-family="Liberation Sans" font-weight="bold" font-size="6.9" fill="#f4f4f4">P5</text>
<rect x="490.0" y="50.1" width="11.7" height="8.9" fill="#000"/>
<text x="491.3" y="56.9" font-family="Liberation Sans" font-weight="bold" font-size="6.9" fill="#f4f4f4">P6</text>
<rect x="573.5" y="50.1" width="11.7" height="8.9" fill="#000"/>
<text x="574.8" y="56.9" font-family="Liberation Sans" font-weight="bold" font-size="6.9" fill="#f4f4f4">P7</text>
<rect x="43.5" y="171.2" width="3" height="0.7" fill="#9a9a9a"/>
<text x="40.3" y="173.9" text-anchor="end" font-family="Liberation Sans" font-size="6.4" letter-spacing="-0.35" fill="#c8c8c8">0</text>
<rect x="43.5" y="146.5" width="3" height="0.7" fill="#9a9a9a"/>
<text x="40.3" y="149.1" text-anchor="end" font-family="Liberation Sans" font-size="6.4" letter-spacing="-0.35" fill="#c8c8c8">20</text>
<rect x="43.5" y="121.7" width="3" height="0.7" fill="#9a9a9a"/>
<text x="40.3" y="124.4" text-anchor="end" font-family="Liberation Sans" font-size="6.4" letter-spacing="-0.35" fill="#c8c8c8">40</text>
<rect x="43.5" y="97.0" width="3" height="0.7" fill="#9a9a9a"/>
<text x="40.3" y="99.6" text-anchor="end" font-family="Liberation Sans" font-size="6.4" letter-spacing="-0.35" fill="#c8c8c8">60</text>
<rect x="43.5" y="72.2" width="3" height="0.7" fill="#9a9a9a"/>
<text x="40.3" y="74.9" text-anchor="end" font-family="Liberation Sans" font-size="6.4" letter-spacing="-0.35" fill="#c8c8c8">80</text>
<rect x="43.5" y="47.4" width="3" height="0.7" fill="#9a9a9a"/>
<text x="40.3" y="50.1" text-anchor="end" font-family="Liberation Sans" font-size="6.4" letter-spacing="-0.35" fill="#c8c8c8">100</text>
<text transform="translate(26.7 110.6) rotate(-90)" text-anchor="middle" font-family="Liberation Sans" font-size="7" fill="#c8c8c8">pos</text>
<rect x="46.15" y="171.6" width="0.7" height="2.6" fill="#9a9a9a"/>
<text x="46.5" y="180.8" text-anchor="middle" font-family="Liberation Sans" font-size="6" fill="#c8c8c8">0:00</text>
<rect x="165.65" y="171.6" width="0.7" height="2.6" fill="#9a9a9a"/>
<text x="166.0" y="180.8" text-anchor="middle" font-family="Liberation Sans" font-size="6" fill="#c8c8c8">1:40</text>
<rect x="285.15" y="171.6" width="0.7" height="2.6" fill="#9a9a9a"/>
<text x="285.5" y="180.8" text-anchor="middle" font-family="Liberation Sans" font-size="6" fill="#c8c8c8">3:20</text>
<rect x="404.65" y="171.6" width="0.7" height="2.6" fill="#9a9a9a"/>
<text x="405.0" y="180.8" text-anchor="middle" font-family="Liberation Sans" font-size="6" fill="#c8c8c8">5:00</text>
<rect x="524.15" y="171.6" width="0.7" height="2.6" fill="#9a9a9a"/>
<text x="524.5" y="180.8" text-anchor="middle" font-family="Liberation Sans" font-size="6" fill="#c8c8c8">6:40</text>
<rect x="643.65" y="171.6" width="0.7" height="2.6" fill="#9a9a9a"/>
<text x="644.0" y="180.8" text-anchor="middle" font-family="Liberation Sans" font-size="6" fill="#c8c8c8">8:20</text>
</svg>

<!-- captions -->
<div class="cap" style="letter-spacing:0.168px;left:15.0px;top:199px">Export preview: 2,211 actions after applying selected transforms. Colour represents stroke velocity (blue = slow, red = fast).</div>
<div class="cap" style="letter-spacing:0.205px;left:15.0px;top:222px">Preview: 1 transform applied - blend seams and final smooth (if checked below) will also be applied on download</div>

<div class="hr" style="top:260px"></div>

<!-- expander: Export options -->
<div class="exp" style="top:279px;height:149px;"></div>
<div style="position:absolute;left:16px;top:280px;width:747px;height:21.7px;background:#1a1c24;border-radius:5px 5px 0 0;border-bottom:1px solid #262831"></div>
<svg style="position:absolute;left:25px;top:287px" width="8" height="7" viewBox="0 0 8 7"><path d="M1.3 2.2 L4 4.9 L6.7 2.2" fill="none" stroke="#fafafa" stroke-width="1.3"/></svg>
<div class="lbl" style="letter-spacing:0.158px;left:38.9px;top:286px">Export options</div>

<div class="cb" style="top:314.2px"><svg width="9.6" height="9.6" viewBox="0 0 10 10"><path d="M1.5 4.9 L4.0 7.3 L8.4 2.7" fill="none" stroke="#fff" stroke-width="1.45"/></svg></div>
<div class="lbl" style="letter-spacing:0.033px;left:39.8px;top:314px">Add blended seams to reduce abrupt style changes</div>
<div class="cb" style="top:337.5px"><svg width="9.6" height="9.6" viewBox="0 0 10 10"><path d="M1.5 4.9 L4.0 7.3 L8.4 2.7" fill="none" stroke="#fff" stroke-width="1.45"/></svg></div>
<div class="lbl" style="letter-spacing:0.128px;left:39.8px;top:337.3px">Conduct final smooth for post process finishing</div>
<div class="cb" style="top:360.7px"><svg width="9.6" height="9.6" viewBox="0 0 10 10"><path d="M1.5 4.9 L4.0 7.3 L8.4 2.7" fill="none" stroke="#fff" stroke-width="1.45"/></svg></div>
<div class="lbl" style="letter-spacing:0.058px;left:39.8px;top:360.5px">Include color heatmap PNG</div>
<div class="help" style="left:150.1px;top:361.3px"><i>?</i></div>
<div class="cb" style="top:384.2px"><svg width="9.6" height="9.6" viewBox="0 0 10 10"><path d="M1.5 4.9 L4.0 7.3 L8.4 2.7" fill="none" stroke="#fff" stroke-width="1.45"/></svg></div>
<div class="lbl" style="letter-spacing:0.039px;left:39.8px;top:384px">Include estim audio files (WAV)</div>
<div class="help" style="left:162.3px;top:384.4px"><i>?</i></div>

<div class="cap" style="letter-spacing:0.130px;left:24.8px;top:406.6px">Device awareness is applied earlier on the <b>Device tab</b> when you accept its fix — no need to re-apply here.</div>

<div class="hr" style="top:456px"></div>

<!-- collapsed expanders -->
<div class="exp" style="top:475.5px;height:23px;"></div>
<svg style="position:absolute;left:25px;top:483.5px" width="7" height="8" viewBox="0 0 7 8"><path d="M2 1.3 L4.7 4 L2 6.7" fill="none" stroke="#fafafa" stroke-width="1.3"/></svg>
<div class="lbl" style="letter-spacing:0.079px;left:38.9px;top:482px">Completed transforms — 1 applied</div>
<div class="exp" style="top:507.5px;height:23px;"></div>
<svg style="position:absolute;left:25px;top:515.5px" width="7" height="8" viewBox="0 0 7 8"><path d="M2 1.3 L4.7 4 L2 6.7" fill="none" stroke="#fafafa" stroke-width="1.3"/></svg>
<div class="lbl" style="letter-spacing:0.044px;left:38.9px;top:514px">Recommended transforms — none accepted</div>

<div class="hr" style="top:558.5px"></div>

<!-- Export devices -->
<div class="h3" style="letter-spacing:-0.692px;left:15.0px;top:585.4px">Export devices</div>
<div class="cap" style="letter-spacing:0.126px;left:15.0px;top:614.5px">Selected on Device tab:</div>
<div class="chip" style="left:96.3px;top:615.6px;width:21.6px"></div>
<div class="code" style="letter-spacing:0.051px;left:98.1px;top:616.5px">handy</div>
<div class="cap" style="left:119.6px;top:614.5px">-</div>
<div class="chip" style="left:123.9px;top:615.6px;width:41.3px"></div>
<div class="code" style="letter-spacing:0.087px;left:126.5px;top:616.5px">stereostim</div>
<div class="cap" style="letter-spacing:0.146px;left:15.0px;top:637.5px">Change your target devices on the <b>Device tab</b>. Estim channel funscripts are identical across estim devices — restim picks the right files at playback time. Per-device audio comes in a future release.</div>

<div class="hr" style="top:676px"></div>

<!-- Export to folder -->
<div class="h3" style="letter-spacing:-0.486px;left:15.0px;top:703.3px">Export to folder</div>
<div class="cap" style="letter-spacing:0.345px;left:15.1px;top:732.5px">Output location:</div>
<div class="chip" style="left:72.5px;top:733.3px;width:249.5px"></div>
<div class="code" style="letter-spacing:0.098px;left:75px;top:734.4px">C:\Users\bruce\AppData\Local\Temp\tmpwxbtvb_\.forge\big_buck_bunny</div>
<svg style="position:absolute;left:15px;top:756.8px" width="6" height="6" viewBox="0 0 6 6"><path d="M0.4 3 H5.0 M3.0 1.0 L5.1 3 L3.0 5.0" fill="none" stroke="#a0a2a7" stroke-width="1.15"/></svg>
<div class="cap" style="letter-spacing:0.144px;left:21.7px;top:754.6px">top-level base files +</div>
<div class="chip" style="left:92.7px;top:755.5px;width:44.3px"></div>
<div class="code" style="letter-spacing:0.119px;left:94.5px;top:756.5px">mechanical/</div>
<div class="cap" style="letter-spacing:0.349px;left:138.6px;top:754.6px">subfolder</div>
<svg style="position:absolute;left:15px;top:779.0px" width="6" height="6" viewBox="0 0 6 6"><path d="M0.4 3 H5.0 M3.0 1.0 L5.1 3 L3.0 5.0" fill="none" stroke="#a0a2a7" stroke-width="1.15"/></svg>
<div class="cap" style="letter-spacing:0.144px;left:21.7px;top:776.8px">top-level base files +</div>
<div class="chip" style="left:92.9px;top:777.7px;width:26px"></div>
<div class="code" style="letter-spacing:0.138px;left:94.8px;top:778.7px">estim/</div>
<div class="cap" style="letter-spacing:0.318px;left:121.3px;top:776.8px">subfolder</div>
</body>
</html>
